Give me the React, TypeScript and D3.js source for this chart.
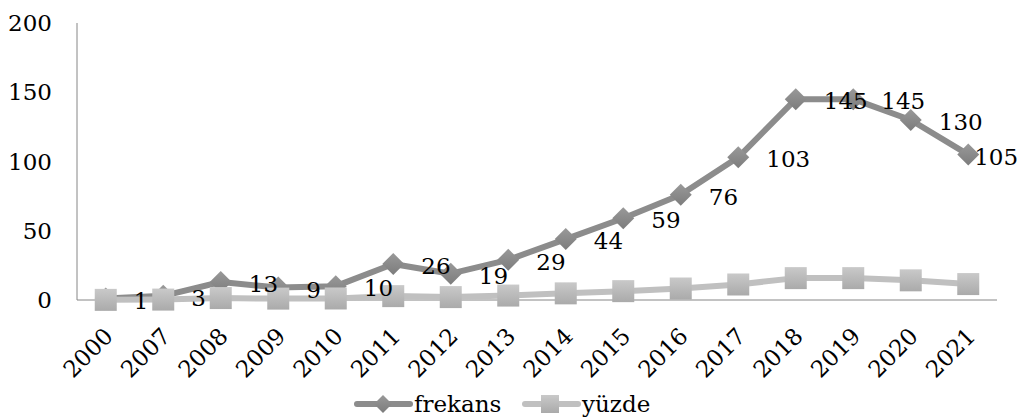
import * as d3 from "d3";

const years = ["2000", "2007", "2008", "2009", "2010", "2011", "2012", "2013", "2014", "2015", "2016", "2017", "2018", "2019", "2020", "2021"];
const frekans = [1, 3, 13, 9, 10, 26, 19, 29, 44, 59, 76, 103, 145, 145, 130, 105];
const yuzde = [0.1, 0.3, 1.4, 1.0, 1.1, 2.8, 2.1, 3.2, 4.8, 6.4, 8.3, 11.2, 15.8, 15.8, 14.2, 11.5];
const yTicks = [0, 50, 100, 150, 200];

const width = 1021;
const height = 419;
const marginLeft = 77;
const marginRight = 24;
const marginTop = 23;
const axisY = 300;
const darkGray = "#8c8c8c";
const lightGray = "#c0c0c0";
const txt = { fontFamily: '"DejaVu Serif", serif', fontSize: "23px" } as const;

export default function App() {
  const x = d3.scaleBand<string>().domain(years).range([marginLeft, width - marginRight]);
  const cx = (y: string) => (x(y) ?? 0) + x.bandwidth() / 2;
  const y = d3.scaleLinear().domain([0, 200]).range([axisY, marginTop]);

  const line = d3
    .line<number>()
    .x((_, i) => cx(years[i]))
    .y((d) => y(d));

  const diamond = (px: number, py: number, r: number) =>
    `M${px},${py - r}L${px + r},${py}L${px},${py + r}L${px - r},${py}Z`;

  // labels sit right of the point, pushed back inside at the right edge
  const labelX = (i: number, v: number) => {
    const w = String(v).length * 14.6;
    return Math.min(cx(years[i]) + 28, width - 3 - w);
  };

  return (
    <svg width={width} height={height} style={{ position: "absolute", left: 0, top: 0 }}>
      <defs>
        <linearGradient id="sq" x1="0" y1="0" x2="0" y2="1">
          <stop offset="0" stopColor="#c9c9c9" />
          <stop offset="1" stopColor="#aaaaaa" />
        </linearGradient>
        <linearGradient id="dm" x1="0" y1="0" x2="0" y2="1">
          <stop offset="0" stopColor="#999999" />
          <stop offset="1" stopColor="#7c7c7c" />
        </linearGradient>
      </defs>
      {/* axes */}
      <line x1={marginLeft} x2={marginLeft} y1={marginTop} y2={axisY} stroke="#868686" strokeWidth={1} />
      <line x1={marginLeft} x2={width - marginRight} y1={axisY} y2={axisY} stroke="#868686" strokeWidth={1} />
      {yTicks.map((t) => (
        <text key={t} x={52} y={y(t)} textAnchor="end" dominantBaseline="central" style={txt}>
          {t}
        </text>
      ))}
      {years.map((yr) => (
        <text
          key={yr}
          transform={`translate(${cx(yr) + 3},${axisY + 32}) rotate(-45)`}
          textAnchor="end"
          dominantBaseline="central"
          style={txt}
        >
          {yr}
        </text>
      ))}
      {/* frekans */}
      <path d={line(frekans) ?? ""} fill="none" stroke={darkGray} strokeWidth={6} strokeLinejoin="round" />
      {frekans.map((v, i) => (
        <path key={i} d={diamond(cx(years[i]), y(v), 11)} fill="url(#dm)" />
      ))}
      {/* yuzde */}
      <path d={line(yuzde) ?? ""} fill="none" stroke={lightGray} strokeWidth={6} strokeLinejoin="round" />
      {yuzde.map((v, i) => (
        <rect key={i} x={cx(years[i]) - 11} y={y(v) - 11} width={22} height={22} fill="url(#sq)" />
      ))}
      {/* labels */}
      {frekans.map((v, i) => (
        <text key={i} x={labelX(i, v)} y={y(v) + 2} dominantBaseline="central" style={txt}>
          {v}
        </text>
      ))}
      {/* legend */}
      <g>
        <line x1={357} x2={410} y1={404} y2={404} stroke={darkGray} strokeWidth={6} strokeLinecap="round" />
        <path d={diamond(383, 404, 9)} fill="url(#dm)" />
        <text x={414} y={404} dominantBaseline="central" style={txt}>frekans</text>
        <line x1={525} x2={578} y1={404} y2={404} stroke={lightGray} strokeWidth={6} strokeLinecap="round" />
        <rect x={541} y={395} width={18} height={18} fill="url(#sq)" />
        <text x={582} y={404} dominantBaseline="central" style={txt}>yüzde</text>
      </g>
    </svg>
  );
}
